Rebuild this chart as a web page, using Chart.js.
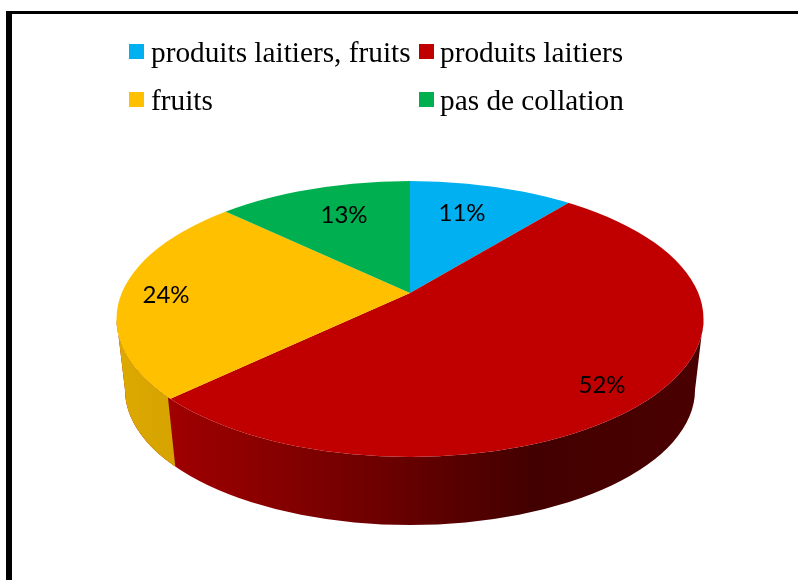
<!DOCTYPE html>
<html lang="fr">
<head>
<meta charset="utf-8">
<style>html,body{margin:0;padding:0;background:#fff}canvas{display:block}</style>
<script src="https://cdn.jsdelivr.net/npm/chart.js@4/dist/chart.umd.js"></script>
</head>
<body>
<div style="width:798px;height:580px"><canvas id="c" width="798" height="580"></canvas></div>
<script>
const categories = ['produits laitiers, fruits', 'produits laitiers', 'fruits', 'pas de collation'];
const values = [11, 52, 24, 13];
const colors = ['#00B0F0', '#C00000', '#FFC000', '#00B050'];

// geometry of the tilted pie (styling only)
const apex = {x: 410, y: 293};
const top_ = {x: 410, y: 319, rx: 293.5, ry: 138};
const bot = {x: 410, y: 390, rx: 285, ry: 135};
const tilt = top_.ry / top_.rx;
const wallSplit = [[168, 398], [175, 464]];
const legendPos = [[129, 44, 22], [419, 44, 21], [129, 92, 22], [419, 92, 21]];
const labelPos = [[462, 213], [602, 385], [166, 295], [344, 215]];

function wallPath(ctx) {
  ctx.beginPath();
  ctx.ellipse(top_.x, top_.y, top_.rx, top_.ry, 0, Math.PI, 0, true);
  ctx.lineTo(bot.x + bot.rx, bot.y);
  ctx.ellipse(bot.x, bot.y, bot.rx, bot.ry, 0, 0, Math.PI, false);
  ctx.closePath();
}

const pie3d = {
  id: 'pie3d',
  beforeDraw(chart) {
    const ctx = chart.ctx;
    ctx.save();
    ctx.fillStyle = '#fff';
    ctx.fillRect(0, 0, 798, 580);
    ctx.fillStyle = '#000';
    ctx.fillRect(6, 11, 792, 3);
    ctx.fillRect(6, 11, 6, 569);
    ctx.restore();
  },
  beforeDatasetsDraw(chart) {
    const ctx = chart.ctx;
    ctx.save();
    // red wall
    const g = ctx.createLinearGradient(168, 0, 703, 0);
    g.addColorStop(0, '#A00000');
    g.addColorStop(0.16, '#8C0000');
    g.addColorStop(0.43, '#680000');
    g.addColorStop(0.68, '#430000');
    g.addColorStop(1, '#4A0000');
    wallPath(ctx);
    ctx.fillStyle = g;
    ctx.fill();
    // yellow wall
    ctx.save();
    wallPath(ctx);
    ctx.clip();
    ctx.beginPath();
    ctx.moveTo(100, 300);
    ctx.lineTo(wallSplit[0][0], 300);
    ctx.lineTo(wallSplit[0][0], wallSplit[0][1]);
    ctx.lineTo(wallSplit[1][0], wallSplit[1][1]);
    ctx.lineTo(wallSplit[1][0] + 2, 480);
    ctx.lineTo(100, 480);
    ctx.closePath();
    const y = ctx.createLinearGradient(116, 0, 175, 0);
    y.addColorStop(0, '#DCAA00');
    y.addColorStop(1, '#D6A300');
    ctx.fillStyle = y;
    ctx.fill();
    ctx.restore();
    // clip top face, map library arcs onto it
    ctx.beginPath();
    ctx.ellipse(top_.x, top_.y, top_.rx, top_.ry, 0, 0, Math.PI * 2);
    ctx.clip();
    const a = chart.getDatasetMeta(0).data[0];
    const s = 1.5;
    ctx.translate(apex.x, apex.y);
    ctx.scale(s, s * tilt);
    ctx.translate(-a.x, -a.y);
  },
  afterDatasetsDraw(chart) {
    const ctx = chart.ctx;
    ctx.restore();
    ctx.save();
    ctx.fillStyle = '#000';
    ctx.textBaseline = 'middle';
    ctx.textAlign = 'center';
    ctx.font = '24px Lato';
    values.forEach((v, i) => ctx.fillText(v + '%', labelPos[i][0], labelPos[i][1]));
    ctx.textAlign = 'left';
    ctx.textBaseline = 'alphabetic';
    categories.forEach((c, i) => {
      const [x, y, off] = legendPos[i];
      ctx.fillStyle = colors[i];
      ctx.fillRect(x, y, 15, 15);
      ctx.fillStyle = '#000';
      ctx.font = '29.3px "Liberation Serif"';
      ctx.fillText(c, x + off, y + 18);
    });
    ctx.restore();
  }
};

new Chart(document.getElementById('c'), {
  type: 'pie',
  data: {labels: categories, datasets: [{data: values, backgroundColor: colors, borderWidth: 0, hoverOffset: 0}]},
  options: {
    responsive: false,
    animation: false,
    events: [],
    layout: {padding: 0},
    plugins: {legend: {display: false}, tooltip: {enabled: false}, title: {display: false}}
  },
  plugins: [pie3d]
});
</script>
</body>
</html>
